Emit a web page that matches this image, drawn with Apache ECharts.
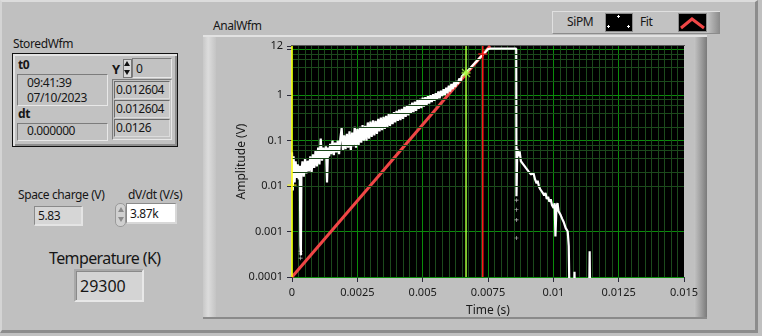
<!DOCTYPE html>
<html><head><meta charset="utf-8">
<script src="https://cdn.jsdelivr.net/npm/echarts@6/dist/echarts.min.js"></script>
<style>
html,body{margin:0;padding:0;width:762px;height:336px;overflow:hidden;background:#c0c0c0;font-family:"Noto Sans",sans-serif;color:#161616;}
.a{position:absolute;box-sizing:border-box;}
.t{position:absolute;white-space:nowrap;line-height:16px;height:16px;font-size:12px;letter-spacing:-0.4px;}
.b{font-weight:bold;}
.inset{border-style:solid;border-width:1px;border-color:#7c7c7c #e8e8e8 #e8e8e8 #7c7c7c;}
.cell{background:#c6c6c6;border-style:solid;border-width:1px;border-color:#6c6c6c #dcdcdc #dcdcdc #6c6c6c;}
#chart{position:absolute;left:0;top:0;width:762px;height:336px;}
</style></head><body>
<!-- window frame -->
<div class="a" style="left:0;top:0;width:758px;height:333px;border-top:2px solid #dcdcdc;border-left:2px solid #d4d4d4;border-right:3px solid #8c8c8c;border-bottom:3px solid #8c8c8c;"></div>
<!-- graph panel frame -->
<div class="a" style="left:203px;top:35px;width:504px;height:284px;background:#c0c0c0;border-top:2px solid #e2e2e2;border-bottom:2px solid #8a8a8a;"></div>
<div class="a" style="left:203px;top:37px;width:13px;height:280px;background:linear-gradient(90deg,#c8c8c8,#dcdcdc 40%,#c4c4c4);"></div>
<div class="a" style="left:694px;top:37px;width:13px;height:280px;background:linear-gradient(90deg,#c4c4c4,#9a9a9a 60%,#7a7a7a);"></div>
<div class="a" style="left:291px;top:45px;width:394px;height:1px;background:#555;"></div>
<div class="t" style="left:213px;top:18px;">AnalWfm</div>

<!-- left cluster -->
<div class="t" style="left:13px;top:36px;">StoredWfm</div>
<div class="a" style="left:12px;top:53px;width:166px;height:94px;border:1px solid #111;background:#c2c2c2;box-shadow:inset 2px 2px 0 #e4e4e4, inset -2px -2px 0 #8e8e8e;"></div>
<div class="t b" style="left:18px;top:57px;">t0</div>
<div class="a inset" style="left:17px;top:74px;width:91px;height:32px;"></div>
<div class="t" style="left:27px;top:75px;">09:41:39</div>
<div class="t" style="left:27px;top:90px;">07/10/2023</div>
<div class="t b" style="left:18px;top:106px;">dt</div>
<div class="a inset" style="left:17px;top:123px;width:91px;height:18px;"></div>
<div class="t" style="left:27px;top:123px;">0.000000</div>
<div class="t b" style="left:112px;top:61px;font-size:13px;">Y</div>
<div class="a" style="left:123px;top:59px;width:9px;height:19px;background:#d8d8d8;border:1px solid #777;"></div>
<div class="a" style="left:124px;top:61px;width:0;height:0;border-left:3px solid transparent;border-right:3px solid transparent;border-bottom:5px solid #111;"></div>
<div class="a" style="left:124px;top:70px;width:0;height:0;border-left:3px solid transparent;border-right:3px solid transparent;border-top:5px solid #111;"></div>
<div class="a inset" style="left:132px;top:58px;width:40px;height:20px;"></div>
<div class="t" style="left:136px;top:61px;">0</div>
<div class="a inset" style="left:112px;top:79px;width:60px;height:61px;"></div>
<div class="a cell" style="left:114px;top:81px;width:56px;height:18px;"></div>
<div class="a cell" style="left:114px;top:100px;width:56px;height:18px;"></div>
<div class="a cell" style="left:114px;top:119px;width:56px;height:18px;"></div>
<div class="t" style="left:116px;top:82px;">0.012604</div>
<div class="t" style="left:116px;top:101px;">0.012604</div>
<div class="t" style="left:116px;top:120px;">0.0126</div>

<!-- space charge / dvdt -->
<div class="t" style="left:18px;top:187px;">Space charge (V)</div>
<div class="a" style="left:34px;top:206px;width:49px;height:20px;background:#d6d6d6;border-style:solid;border-width:1px 2px 2px 1px;border-color:#8a8a8a #e4e4e4 #e4e4e4 #8a8a8a;"></div>
<div class="t" style="left:38px;top:208px;">5.83</div>
<div class="t" style="left:128px;top:187px;">dV/dt (V/s)</div>
<div class="a" style="left:115px;top:203px;width:11px;height:24px;background:#d0d0d0;border:1px solid #9a9a9a;border-radius:5px;"></div>
<div class="a" style="left:118px;top:207px;width:0;height:0;border-left:3px solid transparent;border-right:3px solid transparent;border-bottom:5px solid #8a8a8a;"></div>
<div class="a" style="left:118px;top:217px;width:0;height:0;border-left:3px solid transparent;border-right:3px solid transparent;border-top:5px solid #8a8a8a;"></div>
<div class="a" style="left:126px;top:203px;width:51px;height:21px;background:#fff;border-style:solid;border-width:1px 2px 2px 1px;border-color:#8a8a8a #d8d8d8 #d8d8d8 #8a8a8a;"></div>
<div class="t" style="left:130px;top:206px;">3.87k</div>

<!-- temperature -->
<div class="t" style="left:49px;top:248px;font-size:16px;line-height:20px;height:20px;letter-spacing:-0.6px;">Temperature (K)</div>
<div class="a" style="left:74px;top:269px;width:70px;height:33px;background:#d4d4d4;border-style:solid;border-width:2px;border-color:#a8a8a8 #e8e8e8 #e8e8e8 #a8a8a8;box-shadow:inset 1px 1px 0 #8a8a8a;"></div>
<div class="t" style="left:80px;top:275px;font-size:16px;line-height:22px;height:22px;letter-spacing:0;">29300</div>

<div id="chart"></div>

<!-- legend -->
<div class="a" style="left:552px;top:11px;width:168px;height:23px;background:#c2c2c2;border-top:1px solid #e0e0e0;border-left:1px solid #e0e0e0;border-bottom:1px solid #8c8c8c;"></div>
<div class="a" style="left:707px;top:12px;width:13px;height:21px;background:linear-gradient(90deg,#c4c4c4,#8a8a8a);"></div>
<div class="t" style="left:567px;top:14px;">SiPM</div>
<div class="a" style="left:605px;top:13px;width:28px;height:19px;background:#000;border:1px solid #8c8c8c;"></div>
<div class="a" style="left:617px;top:16px;width:3px;height:1px;background:#fff;"></div><div class="a" style="left:618px;top:15px;width:1px;height:3px;background:#fff;"></div>
<div class="a" style="left:607px;top:26px;width:3px;height:1px;background:#fff;"></div><div class="a" style="left:608px;top:25px;width:1px;height:3px;background:#fff;"></div>
<div class="a" style="left:627px;top:26px;width:3px;height:1px;background:#fff;"></div><div class="a" style="left:628px;top:25px;width:1px;height:3px;background:#fff;"></div>
<div class="t" style="left:640px;top:14px;">Fit</div>
<div class="a" style="left:678px;top:13px;width:29px;height:19px;background:#000;border:1px solid #8c8c8c;">
<svg width="27" height="17" style="position:absolute;left:0;top:0"><polyline points="2,14 13,5 25,14" fill="none" stroke="#f04646" stroke-width="3"/></svg></div>

<script>
// ---- data ----
const sipmT = [0.00000,0.00003,0.00006,0.00010,0.00014,0.00018,0.00022,0.00026,0.00030,0.00032,0.00034,0.00036,
0.00040,0.00045,0.00050,0.00055,0.00060,0.00065,0.00070,0.00075,0.00080,0.00085,0.00090,0.00095,0.00100,0.00105,
0.00110,0.00115,0.00120,0.00125,0.00130,0.00134,0.00138,0.00142,0.00146,0.00150,0.00155,0.00160,0.00165,0.00170,
0.00175,0.00180,0.00185,0.00190,0.00195,0.00200,0.00205,0.00210,0.00215,0.00220,0.00225,0.00230,0.00235,0.00240,
0.00245,0.00250,0.00255,0.00260,0.00265,0.00270,0.00275,0.00280,0.00285,0.00290,0.00295,0.00300,0.00305,0.00310,
0.00315,0.00320,0.00325,0.00330,0.00335,0.00340,0.00345,0.00350,0.00355,0.00360,0.00365,0.00370,0.00375,0.00380,
0.00385,0.00390,0.00395,0.00400,0.00405,0.00410,0.00415,0.00420,0.00425,0.00430,0.00435,0.00440,0.00445,0.00450,
0.00455,0.00460,0.00465,0.00470,0.00475,0.00480,0.00485,0.00490,0.00495,0.00500,0.00505,0.00510,0.00515,0.00520,
0.00525,0.00530,0.00535,0.00540,0.00545,0.00550,0.00555,0.00560,0.00565,0.00570,0.00575,0.00580,0.00585,0.00590,
0.00595,0.00600,0.00605,0.00610,0.00615,0.00620,0.00625,0.00630,0.00635,0.00640,0.00645,0.00650,0.00655,0.00660,
0.00670,0.00680,0.00690,0.00700,0.00710,0.00720,0.00730,0.00740,0.00750,0.00760,0.00800,0.00858,0.00859,0.00862,
0.00868,0.00871,0.00876,0.00885,0.00895,0.00905,0.00915,0.00924,0.00930,0.00936,0.00940,0.00945,0.00950,0.00955,
0.00960,0.00965,0.00970,0.00975,0.00980,0.00985,0.00990,0.00995,0.01001,0.01005,0.01008,0.01012,0.01016,0.01020,
0.01028,0.01034,0.01040,0.01047,0.01055,0.01059,0.01062,0.01079,0.01081,0.01083,0.01137,0.01139,0.01141,0.01160];
const sipmV = [0.055,0.008,0.045,0.012,0.035,0.015,0.03,0.014,0.028,0.0005,0.0003,0.02,
0.035,0.016,0.04,0.019,0.036,0.021,0.045,0.02,0.05,0.025,0.06,0.027,0.07,0.03,
0.11,0.036,0.07,0.04,0.075,0.012,0.07,0.045,0.085,0.05,0.1,0.048,0.09,0.055,
0.1,0.05,0.11,0.19,0.06,0.13,0.065,0.14,0.07,0.16,0.06,0.15,0.075,0.2,
0.07,0.18,0.08,0.2,0.09,0.22,0.1,0.21,0.1,0.25,0.11,0.26,0.12,0.28,
0.13,0.27,0.14,0.3,0.16,0.32,0.17,0.33,0.18,0.35,0.2,0.38,0.21,0.4,
0.23,0.42,0.25,0.45,0.27,0.48,0.28,0.5,0.3,0.55,0.33,0.6,0.36,0.62,
0.4,0.68,0.42,0.72,0.45,0.78,0.5,0.82,0.52,0.88,0.56,0.9,0.6,0.95,
0.65,1.0,0.7,1.05,0.75,1.1,0.8,1.2,0.85,1.25,0.95,1.35,1.0,1.45,
1.1,1.6,1.2,1.75,1.35,1.9,1.5,2.05,1.75,2.3,2.05,2.6,2.4,2.95,
3.3,3.8,4.4,5.1,5.8,6.7,7.7,8.9,10.3,10.5,10.5,10.5,0.006,0.065,
0.045,0.058,0.035,0.03,0.025,0.021,0.018,0.0194,0.014,0.0115,0.013,0.0098,0.0085,0.009,
0.007,0.0062,0.007,0.0052,0.0058,0.0045,0.0051,0.0038,0.0033,0.0042,0.00078,0.0035,0.0042,0.0028,
0.0023,0.0019,0.0016,0.0012,0.001,0.00048,0.00003,0.00003,0.00013,0.00003,0.00003,0.00037,0.00003,0.00003];
const sipmDotT = [0.00033,0.00033,0.00033,0.00859,0.00859,0.00859,0.00859];
const sipmDotV = [0.00037,0.00032,0.00026,0.0049,0.003,0.0018,0.00072];
const fitT = [0, 0.00758];
const fitV = [0.0001, 12];
const cursorT = [0, 0.00666, 0.0073];
const cursorV = [0.0105, 3.06, 8];
const cursorColors = ['#ffff00', '#a6ff3c', '#ff1a1a'];
const xTickLabels = ['0','0.0025','0.005','0.0075','0.01','0.0125','0.015'];
const yLabelValues = [0.0001, 0.001, 0.01, 0.1, 1, 12];
const yLabelTexts = ['0.0001','0.001','0.01','0.1','1','12'];
const yMinorMultiples = [2, 4, 6, 8];
const yDecades = [0.0001, 0.001, 0.01, 0.1, 1];
const yMin = 0.0001, yMax = 12;

// ---- build ----
const sipmData = sipmT.map((t, i) => [t, sipmV[i]]);
const dotData = sipmDotT.map((t, i) => [t, sipmDotV[i]]);
const fitData = fitT.map((t, i) => [t, fitV[i]]);
const minorY = [];
yDecades.forEach(d => yMinorMultiples.forEach(m => minorY.push({yAxis: +(d * m).toPrecision(6)})));
const plusPath = 'path://M0,3.4h8v1.2h-8zM3.4,0h1.2v8h-1.2z';
const starPath = 'path://M0,3.4h8v1.2h-8zM3.4,0h1.2v8h-1.2zM0.8,0L8,7.2L7.2,8L0,0.8zM7.2,0L8,0.8L0.8,8L0,7.2z';
const cursorSeries = cursorT.map((t, i) => ({
  name: 'cursor' + i, type: 'line', data: [[t, yMin], [t, yMax]], showSymbol: false, z: 5, silent: true,
  lineStyle: {color: cursorColors[i], width: 1.5}
}));
const cursorMarks = cursorT.map((t, i) => ({value: [t, cursorV[i]], itemStyle: {color: cursorColors[i]}, symbol: i === 1 ? starPath : plusPath}));

const FONT = 'Noto Sans';
const chart = echarts.init(document.getElementById('chart'), null, {renderer: 'canvas'});
chart.setOption({
  backgroundColor: 'transparent',
  animation: false,
  grid: {left: 292, top: 46, width: 392, height: 231, show: true, backgroundColor: '#000', borderWidth: 0, containLabel: false},
  xAxis: {
    type: 'value', min: 0, max: 0.015, interval: 0.0025,
    name: 'Time (s)', nameLocation: 'middle', nameGap: 28,
    nameTextStyle: {color: '#1a1a1a', fontSize: 12, fontFamily: FONT},
    axisLine: {show: false},
    axisTick: {show: true, length: 5, lineStyle: {color: '#2a2a3a'}},
    axisLabel: {color: '#1a1a1a', fontSize: 11, fontFamily: FONT, margin: 10,
      formatter: v => xTickLabels[Math.round(v / 0.0025)] || ''},
    splitLine: {show: true, showMaxLine: false, lineStyle: {color: '#0a8c0a', width: 1}},
    minorTick: {show: false, splitNumber: 10},
    minorSplitLine: {show: true, lineStyle: {color: '#1c4a1c', width: 1}}
  },
  yAxis: {
    type: 'log', logBase: 10, min: yMin, max: yMax,
    name: 'Amplitude (V)', nameLocation: 'middle', nameGap: 44, nameRotate: 90, nameMoveOverlap: false,
    nameTextStyle: {color: '#1a1a1a', fontSize: 12, fontFamily: FONT},
    axisLine: {show: false},
    axisTick: {show: true, length: 5, lineStyle: {color: '#2a2a3a'}},
    axisLabel: {color: '#1a1a1a', fontSize: 11, fontFamily: FONT, margin: 9,
      showMinLabel: true, showMaxLabel: true,
      formatter: v => {
        const i = yLabelValues.findIndex(x => Math.abs(Math.log10(v) - Math.log10(x)) < 1e-6);
        return i >= 0 ? yLabelTexts[i] : '';
      }},
    splitLine: {show: true, showMaxLine: false, lineStyle: {color: '#0a8c0a', width: 1}}
  },
  series: [
    {name: 'grid', type: 'line', data: [], silent: true, z: 1,
      markLine: {silent: true, symbol: 'none', label: {show: false},
        lineStyle: {color: '#1c4a1c', width: 1, type: 'solid'}, data: minorY}},
    {name: 'Fit', type: 'line', data: fitData, showSymbol: false, z: 3,
      lineStyle: {color: '#f04646', width: 3}, silent: true},
    {name: 'SiPM', type: 'line', data: sipmData, showSymbol: false, z: 4, sampling: 'none',
      lineStyle: {color: '#ffffff', width: 2.2}, silent: true},
    {name: 'SiPM dots', type: 'scatter', data: dotData, symbol: plusPath, symbolSize: 4, z: 4,
      itemStyle: {color: '#ffffff'}, silent: true},
    ...cursorSeries,
    {name: 'cursor marks', type: 'scatter', data: cursorMarks, symbolSize: 9, z: 6, silent: true}
  ]
});
</script>
</body></html>
